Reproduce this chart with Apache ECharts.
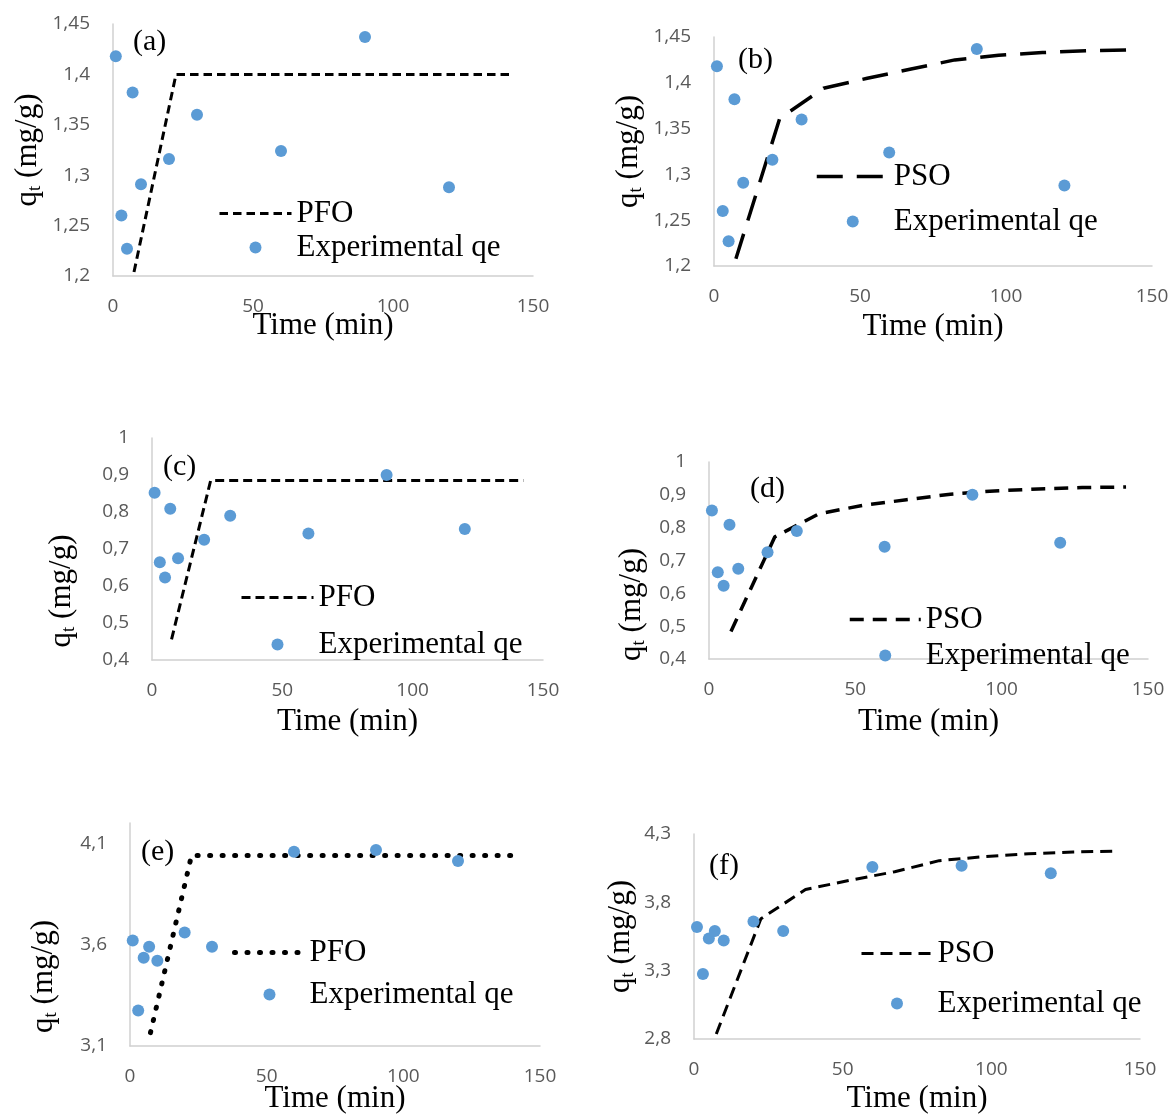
<!DOCTYPE html>
<html>
<head>
<meta charset="utf-8">
<script src="https://cdn.jsdelivr.net/npm/echarts@6/dist/echarts.min.js"></script>
<style>
  html, body { margin: 0; padding: 0; background: #ffffff; }
  #chart { width: 1173px; height: 1115px; }
</style>
</head>
<body>
<div id="chart"></div>
<script>
// Contact time (min): sampling times and the times at which the fitted models were evaluated
const timeExp = [1, 3, 5, 7, 10, 20, 30, 60, 90, 120];
const timeModel = [7.5, 22.5, 37.5, 52.5, 67.5, 82.5, 97.5, 112.5, 127.5, 142.5];

// Experimental uptake qt (mg/g), one array per row of panels
const qExpRow1 = [1.418, 1.260, 1.227, 1.382, 1.291, 1.316, 1.360, 1.324, 1.437, 1.288];
const qExpRow2 = [0.852, 0.664, 0.623, 0.809, 0.675, 0.725, 0.790, 0.742, 0.900, 0.754];
const qExpRow3 = [3.620, 3.275, 3.535, 3.590, 3.520, 3.660, 3.590, 4.058, 4.067, 4.013];

// Fitted kinetic models (pseudo-first order / pseudo-second order)
const pfoA = [1.204, 1.400, 1.400, 1.400, 1.400, 1.400, 1.400, 1.400, 1.400, 1.400];
const psoB = [1.208, 1.361, 1.394, 1.405, 1.415, 1.425, 1.430, 1.433, 1.435, 1.436];
const pfoC = [0.456, 0.885, 0.885, 0.885, 0.885, 0.885, 0.885, 0.885, 0.885, 0.885];
const psoD = [0.484, 0.772, 0.842, 0.868, 0.885, 0.902, 0.912, 0.918, 0.922, 0.924];
const pfoE = [3.166, 4.040, 4.040, 4.040, 4.040, 4.040, 4.040, 4.040, 4.040, 4.040];
const psoF = [2.837, 3.680, 3.894, 3.962, 4.024, 4.105, 4.134, 4.155, 4.168, 4.175];

// Axis scales: [min, max, interval]
const xScale = [0, 150, 50];
const yScaleRow1 = [1.2, 1.45, 0.05];
const yScaleRow2 = [0.4, 1, 0.1];
const yScaleE = [3.1, 4.2, 0.5];
const yScaleF = [2.8, 4.3, 0.5];

const SERIF = 'Liberation Serif';
const SANS = 'Open Sans';

// Layout and styling of each panel
const panels = [
  { tag: '(a)', model: 'PFO', fit: pfoA, exp: qExpRow1, y: yScaleRow1,
    grid: [113, 24, 420, 252], tagPos: [133, 27],
    legend: { left: 218, top: 198, w: 72, gap: 3 },
    line: { width: 3, type: [8.5, 5] }, xGap: 34, yGap: 68, yShift: 0 },
  { tag: '(b)', model: 'PSO', fit: psoB, exp: qExpRow1, y: yScaleRow1,
    grid: [714, 37, 438, 229], tagPos: [738, 45],
    legend: { left: 815, top: 161, w: 72, gap: 14 },
    line: { width: 3.5, type: [26, 14] }, xGap: 45, yGap: 68, yShift: 0 },
  { tag: '(c)', model: 'PFO', fit: pfoC, exp: qExpRow2, y: yScaleRow2,
    grid: [152, 438, 391, 222], tagPos: [163, 452],
    legend: { left: 240, top: 582, w: 72, gap: 16 },
    line: { width: 3, type: [9, 5] }, xGap: 46, yGap: 73, yShift: 42 },
  { tag: '(d)', model: 'PSO', fit: psoD, exp: qExpRow2, y: yScaleRow2,
    grid: [709, 462, 439, 197], tagPos: [750, 474],
    legend: { left: 848, top: 604, w: 71, gap: 5 },
    line: { width: 3.5, type: [14, 9] }, xGap: 47, yGap: 60, yShift: 44 },
  { tag: '(e)', model: 'PFO', fit: pfoE, exp: qExpRow3, y: yScaleE,
    grid: [130, 823, 410, 223], tagPos: [141, 837],
    legend: { left: 232, top: 937, w: 70, gap: 11 },
    line: { width: 5, type: [1, 11.5], cap: 'round' }, xGap: 37, yGap: 69, yShift: 42 },
  { tag: '(f)', model: 'PSO', fit: psoF, exp: qExpRow3, y: yScaleF,
    grid: [694, 834, 446, 205], tagPos: [709, 851],
    legend: { left: 860, top: 938, w: 71, gap: 19 },
    line: { width: 3, type: [12, 7] }, xGap: 44, yGap: 56, yShift: 0 }
];

const decimalComma = v => String(+v.toFixed(2)).replace('.', ',');
const pairs = (xs, ys) => xs.map((x, i) => [x, ys[i]]);
const onGrid = s => Math.abs(((s[1] - s[0]) / s[2]) - Math.round((s[1] - s[0]) / s[2])) < 1e-6;
const curveStyle = p => Object.assign({ color: '#000000' }, p.line);

const option = {
  animation: false,
  backgroundColor: '#ffffff',
  title: panels.map(p => ({
    text: p.tag, left: p.tagPos[0], top: p.tagPos[1], padding: 0,
    textStyle: { fontFamily: SERIF, fontSize: 30, fontWeight: 'normal', color: '#000000' }
  })),
  grid: panels.map(p => ({
    left: p.grid[0], top: p.grid[1], width: p.grid[2], height: p.grid[3], containLabel: false
  })),
  xAxis: panels.map((p, i) => ({
    type: 'value', gridIndex: i,
    min: xScale[0], max: xScale[1], interval: xScale[2],
    name: 'Time (min)', nameLocation: 'middle', nameGap: p.xGap, nameMoveOverlap: false,
    nameTextStyle: { fontFamily: SERIF, fontSize: 31, color: '#000000' },
    axisLine: { show: true, onZero: false, lineStyle: { color: '#d0d0d0', width: 1.5 } },
    axisTick: { show: false },
    splitLine: { show: false },
    axisLabel: { margin: 21, fontFamily: SANS, fontSize: 19, color: '#595959' }
  })),
  yAxis: panels.map((p, i) => ({
    type: 'value', gridIndex: i,
    min: p.y[0], max: p.y[1], interval: p.y[2],
    name: '{q|q}{s|t}{q| (mg/g)}', nameLocation: 'middle', nameGap: p.yGap, nameMoveOverlap: false,
    nameTextStyle: {
      padding: [0, p.yShift * 2, 0, 0],
      rich: {
        q: { fontFamily: SERIF, fontSize: 31, color: '#000000', lineHeight: 34 },
        s: { fontFamily: SERIF, fontSize: 19, color: '#000000', lineHeight: 12, verticalAlign: 'bottom' }
      }
    },
    axisLine: { show: true, onZero: false, lineStyle: { color: '#d0d0d0', width: 1.5 } },
    axisTick: { show: false },
    splitLine: { show: false },
    axisLabel: {
      margin: 23, fontFamily: SANS, fontSize: 19, color: '#595959',
      showMaxLabel: onGrid(p.y),
      formatter: decimalComma
    }
  })),
  legend: panels.map(p => ({
    orient: 'vertical', left: p.legend.left, top: p.legend.top, padding: 0,
    itemWidth: p.legend.w, itemHeight: 12, itemGap: p.legend.gap,
    selectedMode: false,
    data: [
      {
        name: p.model + ' ' + p.tag,
        lineStyle: curveStyle(p),
        itemStyle: { color: 'rgba(0,0,0,0)', borderColor: 'rgba(0,0,0,0)', borderWidth: 0 }
      },
      { name: 'Experimental qe ' + p.tag }
    ],
    formatter: name => name.replace(/ \(.\)$/, ''),
    textStyle: { fontFamily: SERIF, fontSize: 31, color: '#000000', lineHeight: 30 }
  })),
  series: panels.flatMap((p, i) => [
    {
      name: p.model + ' ' + p.tag, type: 'line', xAxisIndex: i, yAxisIndex: i,
      data: pairs(timeModel, p.fit), symbol: 'none', smooth: false,
      lineStyle: curveStyle(p),
      itemStyle: { color: '#000000' },
      z: 3
    },
    {
      name: 'Experimental qe ' + p.tag, type: 'scatter', xAxisIndex: i, yAxisIndex: i,
      data: pairs(timeExp, p.exp), symbol: 'circle', symbolSize: 12,
      itemStyle: { color: '#5b9bd5', opacity: 1 },
      z: 4
    }
  ])
};

const chart = echarts.init(document.getElementById('chart'), null, { renderer: 'canvas' });
chart.setOption(option);
</script>
</body>
</html>
